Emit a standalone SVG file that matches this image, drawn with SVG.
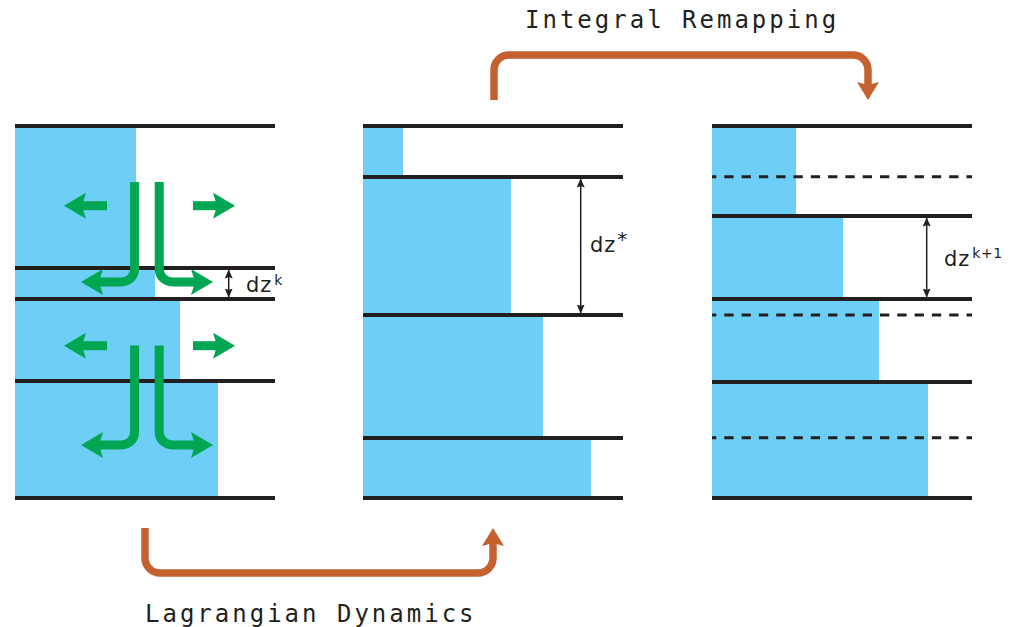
<svg xmlns="http://www.w3.org/2000/svg" width="1010" height="627" viewBox="0 0 1010 627">
  <style>
    .fill { fill: #6DCFF6; }
    .lev { stroke: #231F20; stroke-width: 4; fill: none; }
    .dash { stroke: #231F20; stroke-width: 3; fill: none; stroke-dasharray: 9.3 8; stroke-dashoffset: 5; }
    .flow { stroke: #00A651; stroke-width: 9; fill: none; marker-end: url(#gHead); }
    .step { stroke: #C4612F; stroke-width: 7.5; fill: none; marker-end: url(#oHead); }
    .dim { stroke: #231F20; stroke-width: 1.5; fill: none; marker-start: url(#kHead); marker-end: url(#kHead); }
    .lbl { font-family: "DejaVu Sans Mono", "Liberation Mono", monospace; font-size: 24px; letter-spacing: 3px; fill: #231F20; }
    .dz { font-family: "DejaVu Sans", "Liberation Sans", sans-serif; font-size: 21px; letter-spacing: 1px; fill: #231F20; }
    .sup { font-size: 14px; letter-spacing: 0.5px; fill: #231F20; }
    .ast { font-size: 20px; fill: #231F20; }
  </style>
  <defs>
    <marker id="gHead" markerUnits="userSpaceOnUse" viewBox="0 0 22 26" markerWidth="22" markerHeight="26" refX="5" refY="13" orient="auto">
      <path d="M0,0 L22,13 L0,26 L4,13 Z" fill="#00A651"/>
    </marker>
    <marker id="oHead" markerUnits="userSpaceOnUse" viewBox="0 0 18 22" markerWidth="18" markerHeight="22" refX="4" refY="11" orient="auto">
      <path d="M0,0 L18,11 L0,22 L3,11 Z" fill="#C4612F"/>
    </marker>
    <marker id="kHead" markerUnits="userSpaceOnUse" viewBox="0 0 9 8" markerWidth="9" markerHeight="8" refX="8.5" refY="4" orient="auto-start-reverse">
      <path d="M0,0 L9,4 L0,8 L1.5,4 Z" fill="#231F20"/>
    </marker>
  </defs>

  <!-- column after the Lagrangian step, layer thicknesses dz^k -->
  <g id="column-k">
    <rect class="fill" x="15" y="126" width="121" height="142"/>
    <rect class="fill" x="15" y="268" width="140" height="31"/>
    <rect class="fill" x="15" y="299" width="165" height="82"/>
    <rect class="fill" x="15" y="381" width="203" height="117"/>
    <line class="lev" x1="15" y1="126" x2="275" y2="126"/>
    <line class="lev" x1="15" y1="268" x2="275" y2="268"/>
    <line class="lev" x1="15" y1="299" x2="275" y2="299"/>
    <line class="lev" x1="15" y1="381" x2="275" y2="381"/>
    <line class="lev" x1="15" y1="498" x2="275" y2="498"/>
    <!-- horizontal and vertical flow -->
    <path class="flow" d="M107,205.7 H81"/>
    <path class="flow" d="M193,205.7 H218"/>
    <path class="flow" d="M134.6,182 V269 A13 13 0 0 1 121.6,282 H98"/>
    <path class="flow" d="M159.2,182 V269 A13 13 0 0 0 172.2,282 H196"/>
    <path class="flow" d="M107,345.7 H81"/>
    <path class="flow" d="M193,345.7 H218"/>
    <path class="flow" d="M134.6,345.5 V432 A13 13 0 0 1 121.6,445 H98"/>
    <path class="flow" d="M159.2,345.5 V432 A13 13 0 0 0 172.2,445 H196"/>
    <path class="dim" d="M228.7,270 V297"/>
    <text class="dz" x="246" y="292">dz<tspan class="sup" dx="2" dy="-7">k</tspan></text>
  </g>

  <!-- column of deformed layers, thickness dz* -->
  <g id="column-star">
    <rect class="fill" x="363" y="126" width="40" height="51"/>
    <rect class="fill" x="363" y="177" width="148" height="138"/>
    <rect class="fill" x="363" y="315" width="180" height="123"/>
    <rect class="fill" x="363" y="438" width="228" height="60"/>
    <line class="lev" x1="363" y1="126" x2="623" y2="126"/>
    <line class="lev" x1="363" y1="177" x2="623" y2="177"/>
    <line class="lev" x1="363" y1="315" x2="623" y2="315"/>
    <line class="lev" x1="363" y1="438" x2="623" y2="438"/>
    <line class="lev" x1="363" y1="498" x2="623" y2="498"/>
    <path class="dim" d="M580.7,179 V313"/>
    <text class="dz" x="590" y="252">dz<tspan class="ast" dx="1" dy="-6">*</tspan></text>
  </g>

  <!-- column remapped onto the target grid, thickness dz^k+1 -->
  <g id="column-k1">
    <rect class="fill" x="712" y="126" width="84" height="90"/>
    <rect class="fill" x="712" y="216" width="131" height="83"/>
    <rect class="fill" x="712" y="299" width="167" height="83"/>
    <rect class="fill" x="712" y="382" width="216" height="116"/>
    <line class="dash" x1="712" y1="176.7" x2="972" y2="176.7"/>
    <line class="dash" x1="712" y1="315" x2="972" y2="315"/>
    <line class="dash" x1="712" y1="437.7" x2="972" y2="437.7"/>
    <line class="lev" x1="712" y1="126" x2="972" y2="126"/>
    <line class="lev" x1="712" y1="216" x2="972" y2="216"/>
    <line class="lev" x1="712" y1="299" x2="972" y2="299"/>
    <line class="lev" x1="712" y1="382" x2="972" y2="382"/>
    <line class="lev" x1="712" y1="498" x2="972" y2="498"/>
    <path class="dim" d="M926.7,218 V297"/>
    <text class="dz" x="944" y="266">dz<tspan class="sup" dx="2" dy="-8">k+1</tspan></text>
  </g>

  <!-- step connectors -->
  <g id="connectors">
    <path class="step" d="M145,528 V558 A15 15 0 0 0 160,573 H478 A15 15 0 0 0 493,558 V542"/>
    <path class="step" d="M494,100 V70 A15 15 0 0 1 509,55 H853 A15 15 0 0 1 868,70 V86"/>
    <text class="lbl" x="145" y="621.5">Lagrangian Dynamics</text>
    <text class="lbl" x="525" y="28.3">Integral Remapping</text>
  </g>
</svg>
